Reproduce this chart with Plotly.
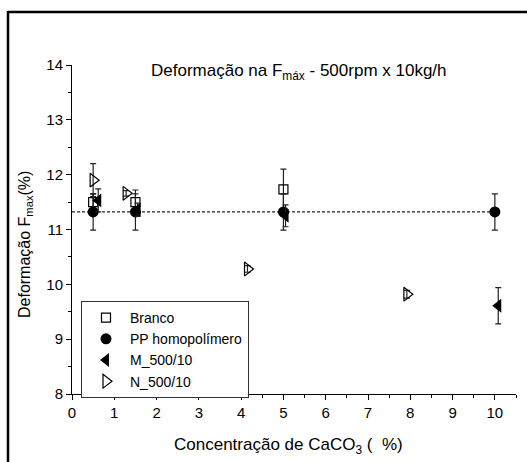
import plotly.graph_objects as go

# ---- data ----
branco_x = [0.5, 1.5, 5.0]
branco_y = [11.50, 11.50, 11.73]
branco_err = [0.15, 0.22, 0.37]

pp_x = [0.5, 1.5, 5.0, 10.0]
pp_y = [11.32, 11.32, 11.32, 11.32]
pp_err = [0.33, 0.33, 0.33, 0.33]

m_x = [0.62, 1.55, 5.05, 10.08]
m_y = [11.53, 11.36, 11.25, 9.61]
m_err = [0.21, 0.12, 0.20, 0.33]

n_x = [0.50, 1.28, 4.15, 7.92]
n_y = [11.90, 11.66, 10.28, 9.82]
n_err = [0.30, 0.05, 0.06, 0.07]

ref_x = [0, 10]
ref_y = [11.32, 11.32]

x_ticks = [0, 1, 2, 3, 4, 5, 6, 7, 8, 9, 10]
y_ticks = [8, 9, 10, 11, 12, 13, 14]

FONT = "Arial, Liberation Sans, sans-serif"

fig = go.Figure()

fig.add_trace(go.Scatter(x=ref_x, y=ref_y, mode="lines",
                         line=dict(color="#222", width=1.2, dash="3px,2px"),
                         showlegend=False, hoverinfo="skip"))

def err(v):
    return dict(type="data", array=v, visible=True, color="#222",
                thickness=1.2, width=3)

fig.add_trace(go.Scatter(x=branco_x, y=branco_y, mode="markers", name="Branco",
                         marker=dict(symbol="square-open", size=9, color="black",
                                     line=dict(width=1.2)),
                         error_y=err(branco_err)))
fig.add_trace(go.Scatter(x=pp_x, y=pp_y, mode="markers", name="PP homopolímero",
                         marker=dict(symbol="circle", size=11, color="black"),
                         error_y=err(pp_err)))
fig.add_trace(go.Scatter(x=m_x, y=m_y, mode="markers", name="M_500/10",
                         marker=dict(symbol="triangle-left", size=12, color="black"),
                         error_y=err(m_err)))
fig.add_trace(go.Scatter(x=n_x, y=n_y, mode="markers", name="N_500/10",
                         marker=dict(symbol="triangle-right-open", size=12, color="black",
                                     line=dict(width=1.2)),
                         error_y=err(n_err)))

W, H = 527, 462
L, R, T, B = 72, 11, 65, 68
pw, ph = W - L - R, H - T - B

def px_x(p):
    return (p - L) / pw

def px_y(p):
    return (H - B - p) / ph

axis_common = dict(showline=True, linecolor="black", linewidth=1,
                   ticks="outside", ticklen=5, tickwidth=1, tickcolor="black",
                   showgrid=False, zeroline=False, mirror=False,
                   tickfont=dict(family=FONT, size=15, color="black"))

fig.update_layout(
    width=W, height=H,
    margin=dict(l=L, r=R, t=T, b=B),
    paper_bgcolor="white", plot_bgcolor="white",
    font=dict(family=FONT, color="black"),
    xaxis=dict(range=[0, 10.5], tickvals=x_ticks, ticktext=[str(v) for v in x_ticks],
               minor=dict(ticks="outside", ticklen=3, tickcolor="black", dtick=0.5,
                          tick0=0, showgrid=False),
               **axis_common),
    yaxis=dict(range=[8, 14], tickvals=y_ticks, ticktext=[str(v) for v in y_ticks],
               minor=dict(ticks="outside", ticklen=3, tickcolor="black", dtick=0.5,
                          tick0=8, showgrid=False),
               **axis_common),
    legend=dict(x=px_x(81), y=px_y(301), xanchor="left", yanchor="top",
                bordercolor="#333", borderwidth=1, bgcolor="white",
                font=dict(family=FONT, size=14, color="black"),
                itemwidth=38, tracegroupgap=0),
    showlegend=True,
)

fig.add_annotation(x=px_x(299), y=px_y(72), xref="paper", yref="paper",
                   text="Deformação na F<sub>máx</sub> - 500rpm x 10kg/h",
                   showarrow=False, xanchor="center", yanchor="middle",
                   font=dict(family=FONT, size=17, color="black"))
fig.add_annotation(x=px_x(288), y=px_y(446), xref="paper", yref="paper",
                   text="Concentração de CaCO<sub>3</sub> (  %)",
                   showarrow=False, xanchor="center", yanchor="middle",
                   font=dict(family=FONT, size=17, color="black"))
fig.add_annotation(x=px_x(25), y=px_y(245), xref="paper", yref="paper",
                   text="Deformação F<sub>max</sub>(%)", textangle=-90,
                   showarrow=False, xanchor="center", yanchor="middle",
                   font=dict(family=FONT, size=16, color="black"))

# outer frame lines (top and left)
fig.add_shape(type="line", xref="paper", yref="paper",
              x0=px_x(8), x1=px_x(W + 5), y0=px_y(12), y1=px_y(12),
              line=dict(color="black", width=2.5))
fig.add_shape(type="line", xref="paper", yref="paper",
              x0=px_x(8), x1=px_x(8), y0=px_y(11), y1=px_y(H + 5),
              line=dict(color="black", width=2.5))

fig.write_html("out.html", config={"displayModeBar": False},
               post_script="document.body.style.margin='0';document.body.style.padding='0';")
